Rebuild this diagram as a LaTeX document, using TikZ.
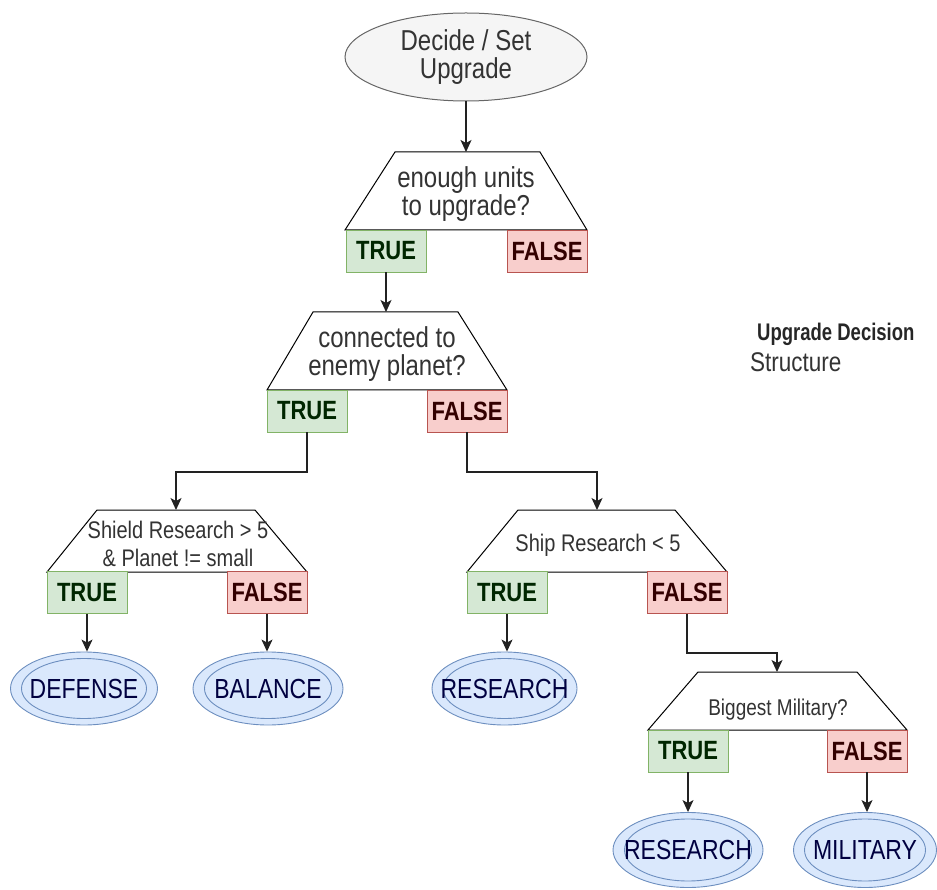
\documentclass[tikz,border=0pt]{standalone}
\usepackage{fontspec}
\usepackage{graphicx}
\setmainfont{Liberation Sans}
\usetikzlibrary{shapes.geometric,arrows.meta}

% glyphs are set slightly taller than wide
\newcommand{\tl}[1]{\scalebox{1}[1.2]{#1}}
% centred label that does not widen its node
\newcommand{\lbl}[1]{\makebox[0pt]{\tl{#1}}}

\definecolor{txt}{HTML}{333333}
\definecolor{tfill}{HTML}{D5E8D4}
\definecolor{tline}{HTML}{82B366}
\definecolor{ffill}{HTML}{F8CECC}
\definecolor{fline}{HTML}{B85450}
\definecolor{efill}{HTML}{DAE8FC}
\definecolor{eline}{HTML}{6C8EBF}
\definecolor{sfill}{HTML}{F5F5F5}
\definecolor{sline}{HTML}{666666}
\definecolor{conn}{HTML}{222222}

\tikzset{
  trap/.style={draw=black, line width=1pt, fill=white},
  truebox/.style={draw=tline, fill=tfill, line width=0.8pt, minimum width=80pt, minimum height=42pt,
    inner sep=0pt, font=\fontsize{22}{26}\selectfont\bfseries, text=black!85!green},
  falsebox/.style={draw=fline, fill=ffill, line width=0.8pt, minimum width=80pt, minimum height=42pt,
    inner sep=0pt, font=\fontsize{22}{26}\selectfont\bfseries, text=black!80!red},
  question/.style={align=center, text=txt, inner sep=0pt},
  leaf/.style={ellipse, draw=eline, fill=efill, line width=0.9pt, inner sep=0pt,
    font=\fontsize{23}{26}\selectfont, text=black!75!blue},
  leafin/.style={ellipse, draw=eline, line width=0.9pt, inner sep=0pt},
  arr/.style={draw=conn, line width=1.2pt, -{Stealth[length=12pt,width=11pt,inset=3pt]}},
}

\begin{document}
\begin{tikzpicture}[x=1pt,y=-1pt]
\useasboundingbox (0,0) rectangle (937,890);

% start node
\node[ellipse, draw=sline, fill=sfill, line width=1pt, minimum width=242pt, minimum height=88pt,
  inner sep=0pt, align=center, text=txt, font=\fontsize{24}{28}\selectfont]
  (start) at (466,57) {\tl{Decide / Set}\\\tl{Upgrade}};

% decision 1
\draw[trap] (395,152) -- (540,152) -- (587,230) -- (345,230) -- cycle;
\coordinate (q1top) at (466,152);
\node[question, font=\fontsize{24}{28}\selectfont] (q1) at (466,194) {\tl{enough units}\\\tl{to upgrade?}};
\node[truebox]  (t1) at (386,251) {\tl{TRUE}};
\node[falsebox] (f1) at (547,251) {\tl{FALSE}};

% decision 2
\draw[trap] (313,312) -- (458,312) -- (507,390) -- (267,390) -- cycle;
\coordinate (q2top) at (386,312);
\node[question, font=\fontsize{24}{28}\selectfont] (q2) at (387,354) {\tl{connected to}\\\tl{enemy planet?}};
\node[truebox]  (t2) at (307,411) {\tl{TRUE}};
\node[falsebox] (f2) at (467,411) {\tl{FALSE}};

% decision 3 (left)
\draw[trap] (97,510) -- (255,510) -- (307,572) -- (47,572) -- cycle;
\coordinate (q3top) at (176,510);
\node[question, font=\fontsize{20}{28}\selectfont] (q3) at (178,544) {\tl{Shield Research > 5}\\\tl{\& Planet != small}};
\node[truebox]  (t3) at (87,592.5) {\tl{TRUE}};
\node[falsebox] (f3) at (267,592.5) {\tl{FALSE}};

% decision 4 (right)
\draw[trap] (518,510) -- (675,510) -- (727,572) -- (467,572) -- cycle;
\coordinate (q4top) at (597,510);
\node[question, font=\fontsize{20}{24}\selectfont] (q4) at (598,545) {\tl{Ship Research < 5}};
\node[truebox]  (t4) at (507,592.5) {\tl{TRUE}};
\node[falsebox] (f4) at (687,592.5) {\tl{FALSE}};

% decision 5
\draw[trap] (698,672) -- (857,672) -- (907,730) -- (648,730) -- cycle;
\coordinate (q5top) at (777,672);
\node[question, font=\fontsize{19}{24}\selectfont] (q5) at (778,710) {\tl{Biggest Military?}};
\node[truebox]  (t5) at (688,751) {\tl{TRUE}};
\node[falsebox] (f5) at (867,751) {\tl{FALSE}};

% outcomes: outer ellipse with fill, inner ring drawn on top
\node[leaf, minimum width=147pt, minimum height=73pt] (def) at (84,688.5) {};
\node[leafin, minimum width=125pt, minimum height=60pt] (defin) at (def) {};
\node[leaf, draw=none, fill=none] (deft) at (def) {\lbl{DEFENSE}};

\node[leaf, minimum width=150pt, minimum height=73pt] (bal) at (268,688.5) {};
\node[leafin, minimum width=127pt, minimum height=60pt] (balin) at (bal) {};
\node[leaf, draw=none, fill=none] (balt) at (bal) {\lbl{BALANCE}};

\node[leaf, minimum width=145pt, minimum height=73pt] (res1) at (504.5,688.5) {};
\node[leafin, minimum width=123pt, minimum height=60pt] (res1in) at (res1) {};
\node[leaf, draw=none, fill=none] (res1t) at (res1) {\lbl{RESEARCH}};

\node[leaf, minimum width=150pt, minimum height=75pt] (res2) at (688,850) {};
\node[leafin, minimum width=127pt, minimum height=62pt] (res2in) at (res2) {};
\node[leaf, draw=none, fill=none] (res2t) at (res2) {\lbl{RESEARCH}};

\node[leaf, minimum width=143pt, minimum height=75pt] (mil) at (865,850) {};
\node[leafin, minimum width=121pt, minimum height=62pt] (milin) at (mil) {};
\node[leaf, draw=none, fill=none] (milt) at (mil) {\lbl{MILITARY}};

% title
\node[anchor=west, inner sep=0pt, text=black!85, font=\fontsize{18.5}{22}\selectfont\bfseries] (title) at (757,334)
  {\scalebox{1}[1.3]{Upgrade Decision}};
\node[anchor=west, inner sep=0pt, text=txt, font=\fontsize{22.5}{26}\selectfont] (sub) at (750,362) {\tl{Structure}};

% connectors
\draw[arr] (start.south) -- (q1top);
\draw[arr] (t1.south) -- (q2top);
\draw[arr] (t2.south) |- (176,472) -- (q3top);
\draw[arr] (f2.south) |- (597,472) -- (q4top);
\draw[arr] (t3.south) -- (t3.south |- def.north);
\draw[arr] (f3.south) -- (f3.south |- bal.north);
\draw[arr] (t4.south) -- (t4.south |- res1.north);
\draw[arr] (f4.south) |- (777,653) -- (q5top);
\draw[arr] (t5.south) -- (t5.south |- res2.north);
\draw[arr] (f5.south) -- (f5.south |- mil.north);
\end{tikzpicture}
\end{document}
